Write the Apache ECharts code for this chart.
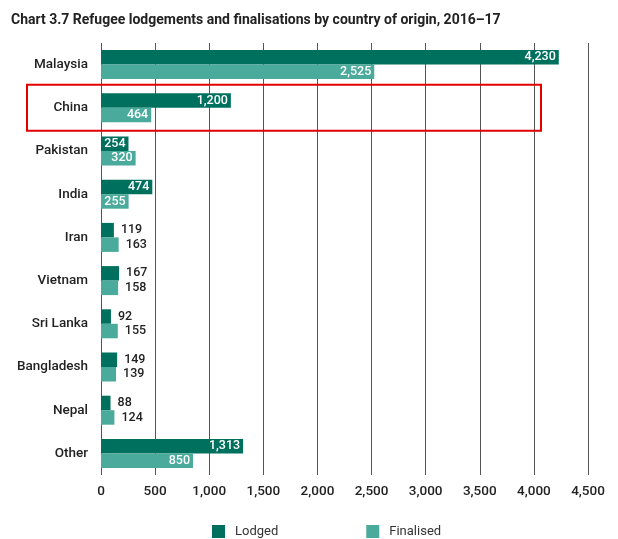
<!DOCTYPE html>
<html>
<head>
<meta charset="utf-8">
<title>Chart 3.7</title>
<script src="https://cdn.jsdelivr.net/npm/echarts@6/dist/echarts.min.js"></script>
<style>
  html, body { margin: 0; padding: 0; background: #fff; }
  #main { width: 618px; height: 539px; }
</style>
</head>
<body>
<div id="main"></div>
<script>
var countries = ['Malaysia', 'China', 'Pakistan', 'India', 'Iran', 'Vietnam', 'Sri Lanka', 'Bangladesh', 'Nepal', 'Other'];
var lodged = [4230, 1200, 254, 474, 119, 167, 92, 149, 88, 1313];
var finalised = [2525, 464, 320, 255, 163, 158, 155, 139, 124, 850];
var xTicks = [0, 500, 1000, 1500, 2000, 2500, 3000, 3500, 4000, 4500];

var fontFam = 'Roboto, "Noto Sans", sans-serif';

// big bars get a white label inside, small ones a dark label to the right
function withLabels(values) {
    return values.map(function (v) {
        if (v >= 250) {
            return { value: v, label: { position: 'insideRight', color: '#fff', distance: 3 } };
        }
        return { value: v, label: { position: 'right', color: '#222', distance: 7 } };
    });
}

function fmt(n) {
    return n.toLocaleString('en-US');
}

var myChart = echarts.init(document.getElementById('main'));

var option = {
    animation: false,
    title: {
        text: 'Chart 3.7 Refugee lodgements and finalisations by country of origin, 2016\u201317',
        left: 6,
        top: 8,
        textStyle: { fontFamily: fontFam, fontSize: 14, fontWeight: 'bold', color: '#222' }
    },
    grid: { left: 101, right: 30, top: 43, bottom: 64 },
    legend: {
        data: ['Lodged', 'Finalised'],
        left: 207,
        top: 520,
        itemWidth: 13,
        itemHeight: 13,
        itemGap: 88,
        icon: 'rect',
        textStyle: { fontFamily: fontFam, fontSize: 13, color: '#333', padding: [0, 0, 0, 5] }
    },
    xAxis: {
        type: 'value',
        min: 0,
        max: xTicks[xTicks.length - 1],
        interval: xTicks[1] - xTicks[0],
        axisLine: { show: false },
        axisTick: { show: false },
        splitLine: { show: true, lineStyle: { color: '#555', width: 1 } },
        axisLabel: {
            margin: 10,
            fontFamily: fontFam,
            fontSize: 13.5,
            fontWeight: 500,
            color: '#222',
            formatter: function (v) { return fmt(v); }
        }
    },
    yAxis: {
        type: 'category',
        data: countries,
        inverse: true,
        axisLine: { show: false },
        axisTick: { show: false },
        axisLabel: {
            margin: 13,
            fontFamily: fontFam,
            fontSize: 13.5,
            fontWeight: 500,
            color: '#222'
        }
    },
    series: [
        {
            name: 'Lodged',
            type: 'bar',
            barWidth: 14.5,
            barGap: '0%',
            itemStyle: { color: '#00705e' },
            label: {
                show: true,
                fontFamily: fontFam,
                fontSize: 12.5,
                fontWeight: 500,
                formatter: function (p) { return fmt(p.value); }
            },
            data: withLabels(lodged)
        },
        {
            name: 'Finalised',
            type: 'bar',
            barWidth: 14.5,
            itemStyle: { color: '#4aaa9b' },
            label: {
                show: true,
                fontFamily: fontFam,
                fontSize: 12.5,
                fontWeight: 500,
                formatter: function (p) { return fmt(p.value); }
            },
            data: withLabels(finalised)
        }
    ]
};

myChart.setOption(option);

// red highlight box round the China row
var cy = myChart.convertToPixel({ yAxisIndex: 0 }, 'China');
myChart.setOption({
    graphic: [{
        type: 'rect',
        shape: { x: 27, y: cy - 23, width: 514, height: 46 },
        style: { fill: 'none', stroke: '#e00000', lineWidth: 2 },
        z: 100
    }]
});
</script>
</body>
</html>
